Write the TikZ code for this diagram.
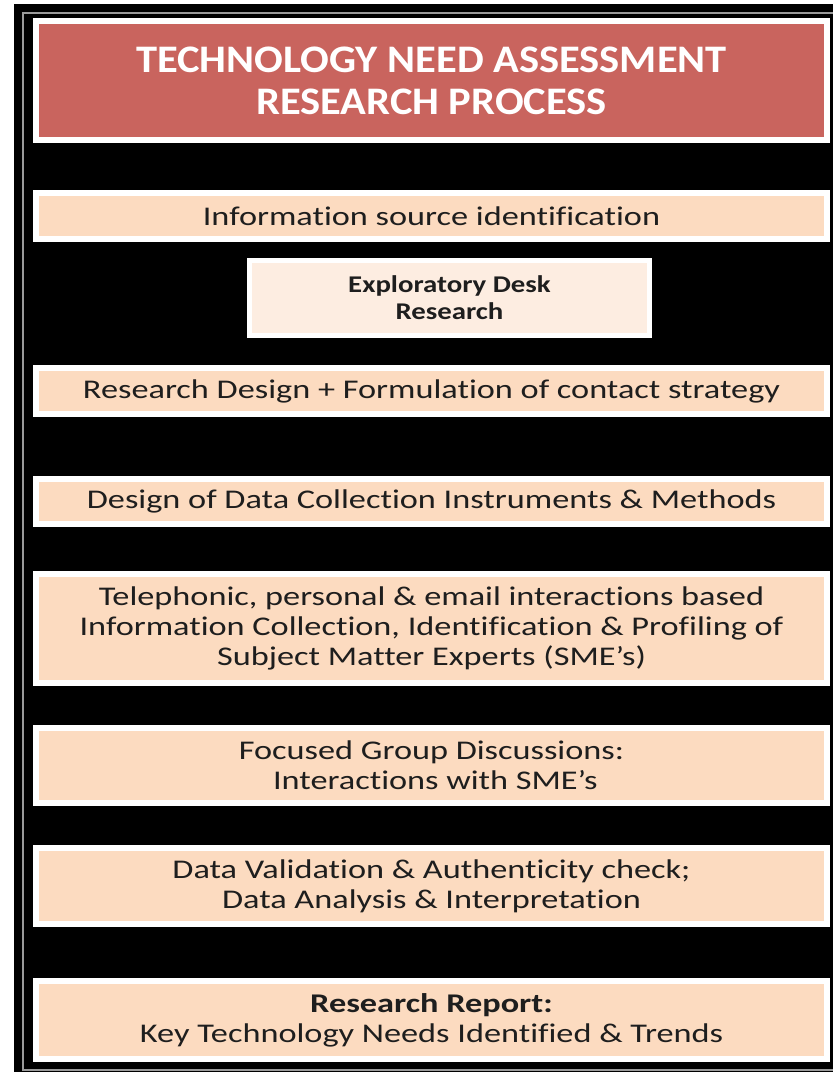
\documentclass[tikz,border=0pt]{standalone}
\usepackage{fontspec}
\setmainfont{Carlito}
\newfontfamily\bodyfont{Carlito}[FakeStretch=1.27, RawFeature={-liga;-calt;-clig}]
\newfontfamily\deskfont{Carlito}[FakeStretch=1.2, RawFeature={-liga;-calt;-clig}]
\newfontfamily\headfont{Carlito}[FakeStretch=1.09, RawFeature={-liga;-calt;-clig}]
\definecolor{titlered}{HTML}{C9645E}
\definecolor{peach}{HTML}{FCDBC0}
\definecolor{lightpeach}{HTML}{FDEDE1}
\definecolor{txt}{HTML}{1E1E1E}
\definecolor{framegrey}{HTML}{9A9A9A}
\begin{document}
\begin{tikzpicture}[x=1pt,y=-1pt,
  stepbox/.style={draw=white, line width=6pt, fill=peach, inner sep=0pt, outer sep=0pt,
    minimum width=791pt, align=center, text=txt, font=\bodyfont\fontsize{27}{30}\selectfont},
  titlebox/.style={stepbox, fill=titlered, text=white, font=\headfont\bfseries\fontsize{39}{42}\selectfont},
  deskbox/.style={draw=white, line width=5pt, fill=lightpeach, inner sep=0pt, outer sep=0pt,
    minimum width=400pt, minimum height=75pt, align=center, text=txt,
    font=\deskfont\bfseries\fontsize{24}{27}\selectfont},
  flow/.style={draw=black, line width=1pt, ->, shorten >=6pt, shorten <=6pt}]
\useasboundingbox (0,0) rectangle (833,1072);
\fill[white] (0,0) rectangle (833,1072);
\fill[black] (14,4) rectangle (840,1080);
\draw[framegrey, line width=1.5pt] (23,13) rectangle (845,1070);

\node[titlebox, minimum height=119pt] (title) at (431.5,80.5)
  {TECHNOLOGY NEED ASSESSMENT\\RESEARCH PROCESS};
\node[stepbox, minimum height=46pt] (src) at (431.5,216)
  {Information source identification};
\node[deskbox] (desk) at (449.5,298)
  {Exploratory Desk\\Research};
\node[stepbox, minimum height=46pt] (design) at (431.5,391)
  {Research Design + Formulation of contact strategy};
\node[stepbox, minimum height=45pt] (instr) at (431.5,501.5)
  {Design of Data Collection Instruments \& Methods};
\node[stepbox, minimum height=109pt] (tel) at (431.5,628.5)
  {Telephonic, personal \& email interactions based\\Information Collection, Identification \& Profiling of\\Subject Matter Experts (SME’s)};
\node[stepbox, minimum height=75pt] (fgd) at (431.5,765.5)
  {Focused Group Discussions:\\\ Interactions with SME’s};
\node[stepbox, minimum height=76pt] (valid) at (431.5,886)
  {Data Validation \& Authenticity check;\\Data Analysis \& Interpretation};
\node[stepbox, minimum height=78pt] (report) at (431.5,1020)
  {\textbf{Research Report:}\\Key Technology Needs Identified \& Trends};

\draw[flow] (src) -- (desk);
\draw[flow] (desk) -- (design);
\draw[flow] (design) -- (instr);
\draw[flow] (instr) -- (tel);
\draw[flow] (tel) -- (fgd);
\draw[flow] (fgd) -- (valid);
\draw[flow] (valid) -- (report);
\end{tikzpicture}
\end{document}
